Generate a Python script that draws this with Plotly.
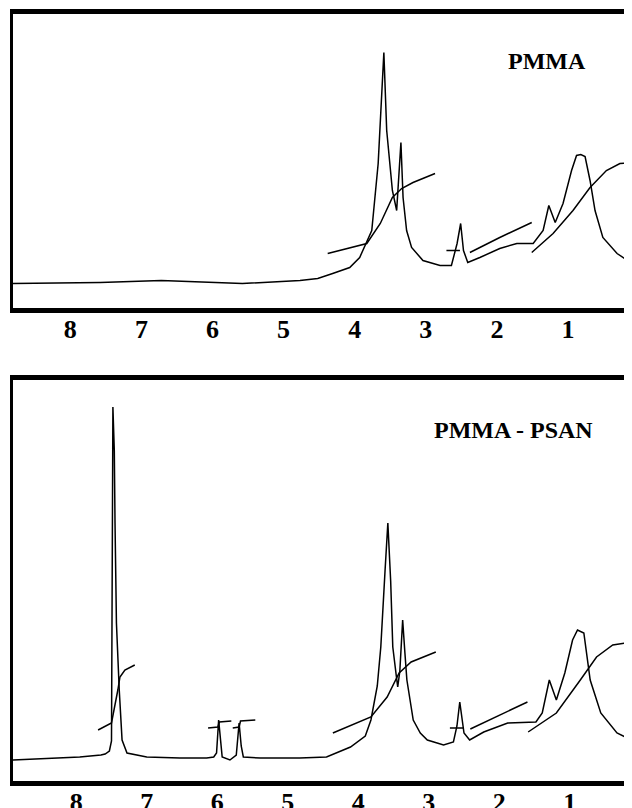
import plotly.graph_objects as go
from plotly.subplots import make_subplots

# ---------------- data (chemical shift in ppm, signal in arbitrary units) ----------------
tick_vals = [8, 7, 6, 5, 4, 3, 2, 1]
tick_text = ["8", "7", "6", "5", "4", "3", "2", "1"]

# Top panel: PMMA spectrum
pmma_ppm = [8.81, 7.58, 6.72, 5.58, 4.77, 4.52, 4.31, 4.07, 3.93, 3.76, 3.67, 3.62, 3.59,
            3.55, 3.47, 3.41, 3.35, 3.32, 3.27, 3.20, 3.04, 2.80, 2.64, 2.56, 2.51, 2.47,
            2.41, 2.24, 1.96, 1.72, 1.49, 1.35, 1.27, 1.18, 1.07, 0.95, 0.88, 0.82, 0.76,
            0.69, 0.62, 0.51, 0.31, 0.10]
pmma_sig = [24, 25, 27, 24, 27, 29, 34, 40, 50, 77, 144, 210, 255,
            177, 117, 97, 165, 110, 77, 60, 47, 42, 42, 64, 84, 57,
            45, 50, 59, 64, 64, 77, 102, 85, 104, 137, 152, 153, 151,
            127, 97, 70, 54, 44]

# Top panel integral curves
pmma_int1_ppm = [4.38, 3.83, 3.64, 3.47, 3.34, 3.18, 2.87]
pmma_int1_val = [54, 64, 84, 110, 119, 125, 134]
pmma_int2_ppm = [2.71, 2.52]
pmma_int2_val = [57, 57]
pmma_int3_ppm = [2.38, 1.96, 1.51]
pmma_int3_val = [55, 70, 85]
pmma_int4_ppm = [1.51, 1.21, 0.93, 0.69, 0.46, 0.27, 0.10]
pmma_int4_val = [55, 74, 97, 120, 137, 144, 145]

# Bottom panel: PMMA - PSAN spectrum
blend_ppm = [8.90, 8.22, 7.95, 7.65, 7.59, 7.53, 7.50, 7.48, 7.46, 7.45, 7.43, 7.39, 7.35,
             7.28, 7.00, 6.53, 6.15, 6.05, 6.01, 5.98, 5.95, 5.93, 5.82, 5.73, 5.69, 5.66,
             5.63, 5.39, 5.11, 4.83, 4.45, 4.11, 3.90, 3.82, 3.73, 3.68, 3.62, 3.58, 3.54,
             3.51, 3.46, 3.44, 3.41, 3.37, 3.34, 3.31, 3.22, 3.12, 3.02, 2.79, 2.65, 2.60,
             2.56, 2.53, 2.50, 2.42, 2.22, 1.88, 1.48, 1.39, 1.29, 1.19, 1.07, 0.96, 0.89,
             0.80, 0.71, 0.56, 0.33, 0.12]
blend_sig = [21, 23, 24, 26, 27, 30, 40, 374, 330, 258, 158, 91, 41,
             28, 24, 23, 23, 24, 28, 61, 40, 24, 21, 26, 58, 35,
             24, 23, 23, 23, 24, 34, 45, 61, 95, 134, 210, 258, 200,
             134, 105, 94, 110, 161, 130, 101, 61, 48, 41, 36, 39, 55,
             79, 65, 48, 41, 49, 58, 59, 68, 101, 81, 108, 141, 151,
             148, 101, 68, 48, 41]

# Bottom panel integral curves
blend_int1_ppm = [7.69, 7.50, 7.41, 7.38, 7.31, 7.17]
blend_int1_val = [51, 58, 91, 104, 111, 116]
blend_int2_ppm = [6.13, 5.99, 5.97, 5.80]
blend_int2_val = [53, 54, 59, 60]
blend_int3_ppm = [5.78, 5.69, 5.67, 5.46]
blend_int3_val = [53, 54, 60, 61]
blend_int4_ppm = [4.36, 3.82, 3.59, 3.42, 3.25, 2.90]
blend_int4_val = [48, 64, 84, 108, 119, 129]
blend_int5_ppm = [2.70, 2.50]
blend_int5_val = [53, 53]
blend_int6_ppm = [2.41, 2.00, 1.60]
blend_int6_val = [52, 66, 79]
blend_int7_ppm = [1.59, 1.19, 0.85, 0.62, 0.39, 0.12]
blend_int7_val = [49, 68, 101, 124, 136, 139]

# ---------------- figure ----------------
# page body has an 8 px margin, so the figure is sized to end at the window edge
W, H = 624, 800
OFF = 8

def py(screen_y):
    return (H - (screen_y - OFF)) / H

def px(screen_x):
    return (screen_x - OFF) / W

fig = make_subplots(rows=2, cols=1)

LINE = dict(color="black", width=1.5)

def add(xs, ys, row):
    fig.add_trace(go.Scatter(x=xs, y=ys, mode="lines", line=LINE,
                             showlegend=False, hoverinfo="skip"), row=row, col=1)

add(pmma_ppm, pmma_sig, 1)
add(pmma_int1_ppm, pmma_int1_val, 1)
add(pmma_int2_ppm, pmma_int2_val, 1)
add(pmma_int3_ppm, pmma_int3_val, 1)
add(pmma_int4_ppm, pmma_int4_val, 1)

add(blend_ppm, blend_sig, 2)
add(blend_int1_ppm, blend_int1_val, 2)
add(blend_int2_ppm, blend_int2_val, 2)
add(blend_int3_ppm, blend_int3_val, 2)
add(blend_int4_ppm, blend_int4_val, 2)
add(blend_int5_ppm, blend_int5_val, 2)
add(blend_int6_ppm, blend_int6_val, 2)
add(blend_int7_ppm, blend_int7_val, 2)

bold_ticks = ["<b>%s</b>" % t for t in tick_text]
tickfont = dict(family="Liberation Serif", size=26, color="black")
xcommon = dict(showline=True, linewidth=5, linecolor="black", mirror=True,
               showgrid=False, zeroline=False, tickvals=tick_vals, ticktext=bold_ticks,
               tickfont=tickfont, ticks="", ticklabelstandoff=-6,
               automargin=False)
ycommon = dict(showline=True, linewidth=3, linecolor="black", mirror=False,
               showgrid=False, zeroline=False, showticklabels=False, ticks="",
               automargin=False)

fig.update_xaxes(range=[8.806, 0.100], domain=[0, 1], **xcommon, row=1, col=1)
fig.update_xaxes(range=[8.897, 0.117], domain=[0, 1], **xcommon, row=2, col=1)
fig.update_yaxes(range=[0, 293.5], domain=[py(307.5), py(14)], **ycommon, row=1, col=1)
fig.update_yaxes(range=[0, 401], domain=[py(781), py(380)], **ycommon, row=2, col=1)

fig.add_annotation(text="<b>PMMA</b>", x=px(546), y=py(61), xref="paper", yref="paper",
                   showarrow=False, font=dict(family="Liberation Serif", size=24, color="black"),
                   xanchor="center", yanchor="middle")
fig.add_annotation(text="<b>PMMA - PSAN</b>", x=px(513), y=py(430), xref="paper", yref="paper",
                   showarrow=False, font=dict(family="Liberation Serif", size=24, color="black"),
                   xanchor="center", yanchor="middle")

fig.update_layout(width=W, height=H, margin=dict(l=13 - OFF, r=0, t=0, b=0),
                  paper_bgcolor="white", plot_bgcolor="white",
                  font=dict(family="Liberation Serif", color="black"))

fig.write_html("out.html")
